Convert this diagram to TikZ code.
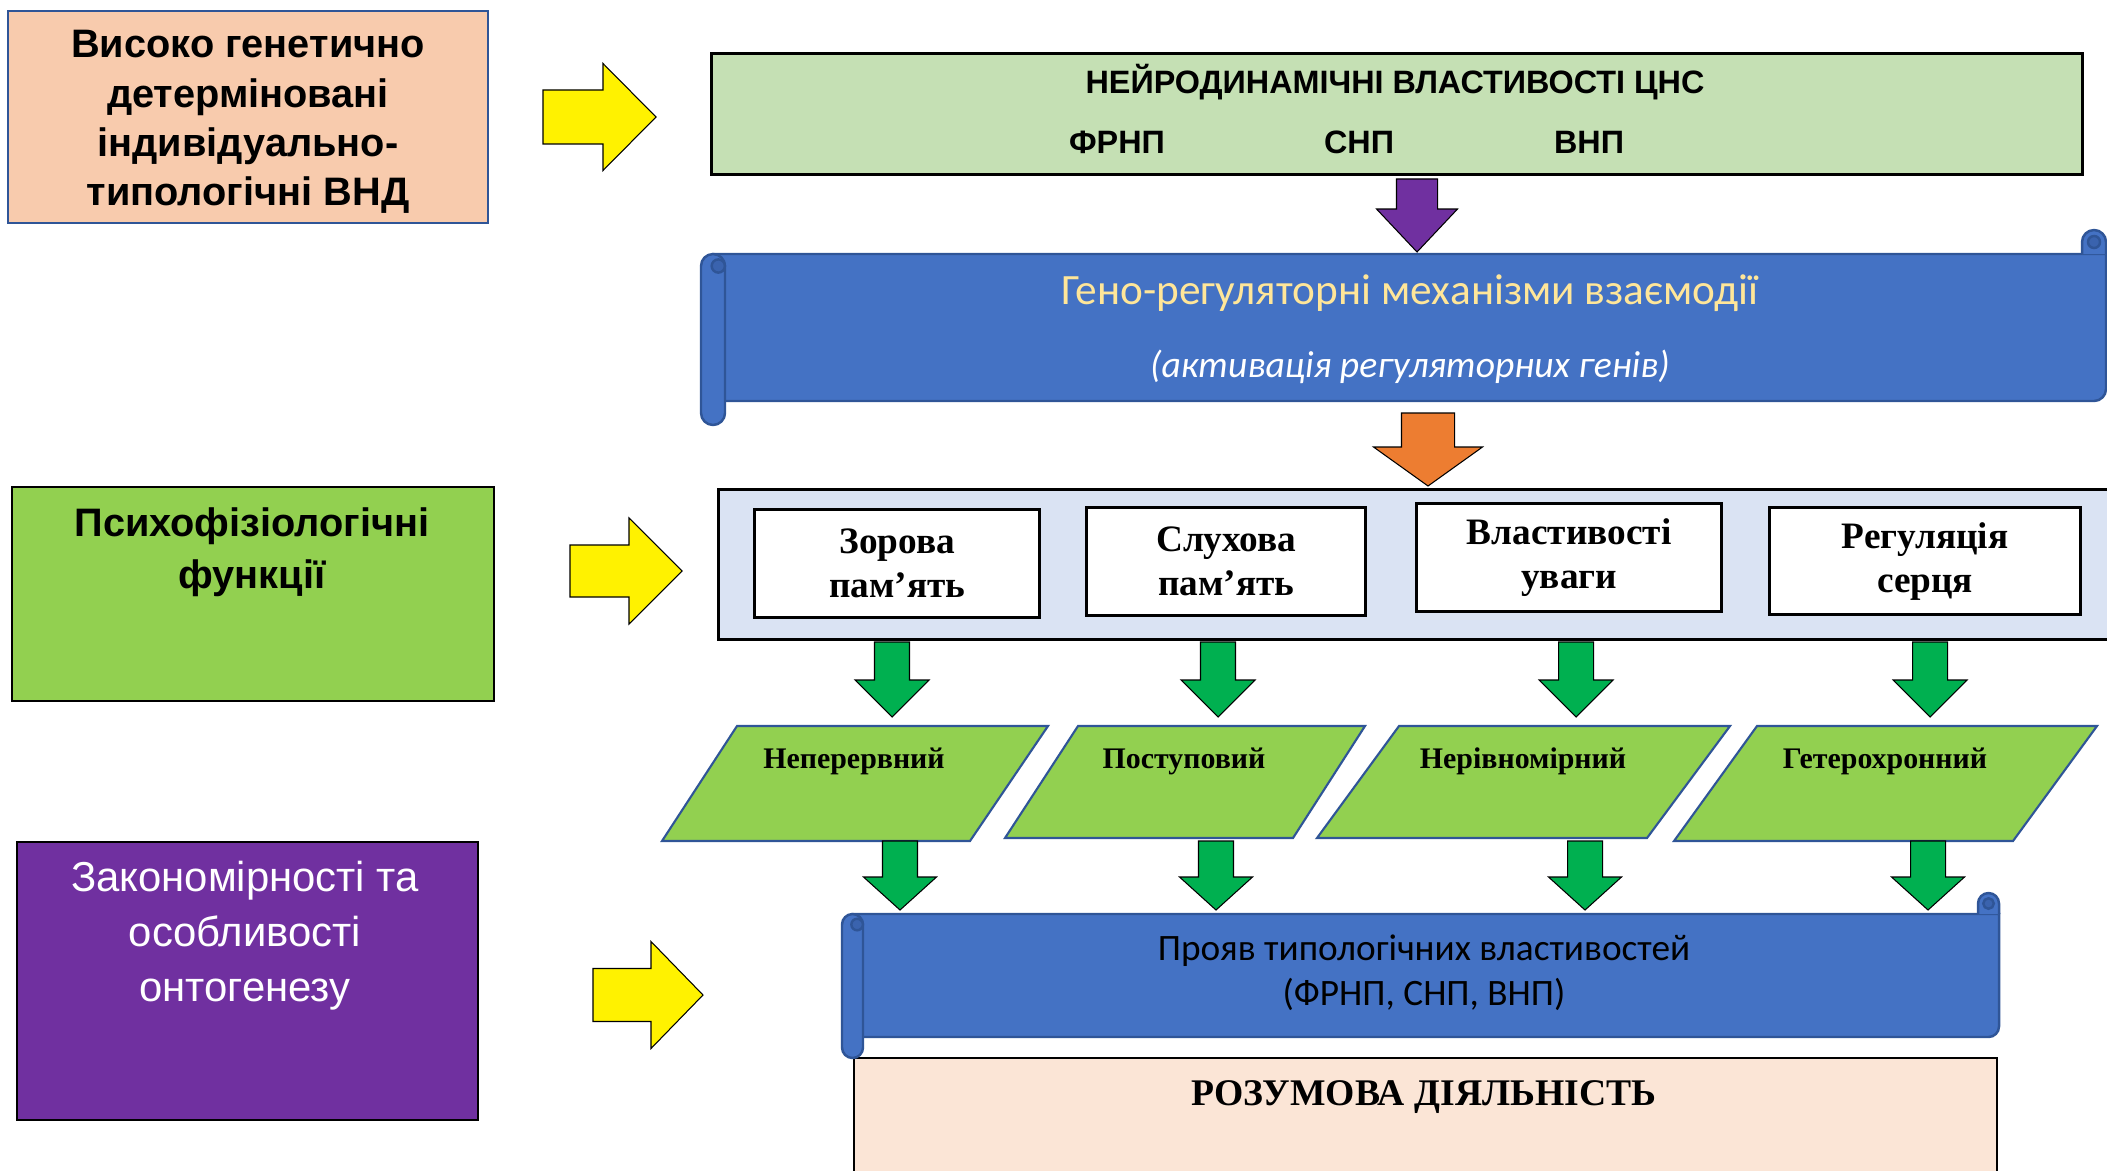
\documentclass[tikz,border=0pt]{standalone}
\usepackage{fontspec}
\setmainfont{Liberation Serif}
\newfontfamily\arialfont{Liberation Sans}
\newfontfamily\calibrifont{Carlito}
\usetikzlibrary{positioning,calc}

\definecolor{genpeach}{HTML}{F8CBAD}
\definecolor{ncsgreen}{HTML}{C5E0B4}
\definecolor{pfgreen}{HTML}{92D050}
\definecolor{arrgreen}{HTML}{00B050}
\definecolor{ontpurple}{HTML}{7030A0}
\definecolor{scrollblue}{HTML}{4472C4}
\definecolor{scrolledge}{HTML}{2F5597}
\definecolor{scrolldark}{HTML}{3A63AE}
\definecolor{paleblue}{HTML}{DAE3F3}
\definecolor{arrorange}{HTML}{ED7D31}
\definecolor{mindpeach}{HTML}{FBE5D6}
\definecolor{paleyellow}{HTML}{FFE699}

% down block arrow: x, top, tip, body half, head half, head length, colour
\newcommand{\dnarrow}[7]{%
  \draw[blockarrow,fill=#7] (#1-#4,#2) -- (#1+#4,#2) -- (#1+#4,#3-#6) -- (#1+#5,#3-#6)
    -- (#1,#3) -- (#1-#5,#3-#6) -- (#1-#4,#3-#6) -- cycle;}
% right block arrow: start, tip, y, body half, head half, head base
\newcommand{\rtarrow}[6]{%
  \draw[blockarrow,fill=yellow] (#1,#3-#4) -- (#6,#3-#4) -- (#6,#3-#5) -- (#2,#3)
    -- (#6,#3+#5) -- (#6,#3+#4) -- (#1,#3+#4) -- cycle;}
% scroll banner: left, right, top, bottom, roll size, roll radius
\newcommand{\scrollbanner}[6]{%
  \draw[scroll] (#1+#5/2,#3+#5) -- (#2,#3+#5) [rounded corners=#6] -- (#2,#4-#5)
    -- (#1+#5/2,#4-#5) [sharp corners] -- cycle;
  \draw[scroll,rounded corners=#6] (#2-#5,#3+#5) -- (#2-#5,#3) -- (#2,#3) -- (#2,#3+#5);
  \draw[scroll,fill=scrolldark] (#2-#5/2,#3+#5/2) circle[radius=0.5*#6];
  \draw[scroll,rounded corners=#6] (#1,#3+#5) rectangle (#1+#5,#4);
  \draw[scroll,fill=scrolldark] (#1+0.72*#5,#3+1.5*#5) circle[radius=0.55*#6];}

\begin{document}
\begin{tikzpicture}[x=0.01cm,y=-0.01cm,
  blockarrow/.style={draw=black,line width=0.3pt},
  scroll/.style={draw=scrolledge,fill=scrollblue,line width=0.7pt},
  sidebox/.style={draw=black,line width=0.6pt,anchor=north west,inner sep=0pt},
  memobox/.style={draw=black,fill=white,line width=0.9pt,anchor=north west,align=center,
    font=\bfseries\fontsize{10.6}{12.5}\selectfont},
  para/.style={draw=scrolledge,fill=pfgreen,line width=0.6pt},
  paratext/.style={font=\bfseries\fontsize{8.5}{10}\selectfont},
  ncstext/.style={font=\arialfont\bfseries\fontsize{9.2}{11}\selectfont}]
\useasboundingbox (0,0) rectangle (2107,1170);

% left column
\node[sidebox,draw=scrolledge,fill=genpeach,minimum width=4.80cm,minimum height=2.12cm] (gen) at (7,10) {};
\node[align=center,font=\arialfont\bfseries\fontsize{11.3}{14}\selectfont] (gentext) at (248,122)
  {Високо генетично\\детерміновані\\індивідуально-\\типологічні ВНД};
\node[sidebox,fill=pfgreen,minimum width=4.82cm,minimum height=2.14cm] (psy) at (11,486) {};
\node[align=center,font=\arialfont\bfseries\fontsize{11.3}{14.8}\selectfont] (psytext) at (252,552)
  {Психофізіологічні\\функції};
\node[sidebox,fill=ontpurple,minimum width=4.61cm,minimum height=2.78cm] (ont) at (16,841) {};
\node[align=center,text=white,font=\arialfont\fontsize{11.9}{15.6}\selectfont] (onttext) at (245,936)
  {Закономірності та\\особливості\\онтогенезу};

\rtarrow{543}{656}{117}{27}{53.5}{603}
\rtarrow{570}{682}{571}{26}{53}{629}
\rtarrow{593}{703}{995}{26.5}{53.5}{651}

% neurodynamic properties
\node[sidebox,fill=ncsgreen,line width=0.9pt,minimum width=13.70cm,minimum height=1.21cm] (ncs) at (710,52) {};
\node[ncstext] (ncstitle) at (1395,82) {НЕЙРОДИНАМІЧНІ ВЛАСТИВОСТІ ЦНС};
\node[ncstext] (frnp) at (1117,142) {ФРНП};
\node[ncstext] (snp) at (1359,142) {СНП};
\node[ncstext] (vnp) at (1589,142) {ВНП};

\dnarrow{1417}{179}{252}{20.5}{40.5}{43}{ontpurple}

% gene regulation
\scrollbanner{701}{2106}{230}{425}{24}{0.12cm}
\node[text=paleyellow,font=\calibrifont\fontsize{12.3}{14}\selectfont] (geno) at (1410,293)
  {Гено-регуляторні механізми взаємодії};
\node[text=white,font=\calibrifont\itshape\fontsize{10.7}{12}\selectfont] (activ) at (1410,367)
  {(активація регуляторних генів)};

\dnarrow{1428}{413}{486}{26.5}{54.5}{39}{arrorange}

% psychophysiological functions
\node[sidebox,fill=paleblue,line width=0.9pt,minimum width=14.03cm,minimum height=1.50cm] (funcs) at (717,488) {};
\node[memobox,minimum width=2.85cm,minimum height=1.08cm] (vis) at (753,508) {Зорова\\пам’ять};
\node[memobox,minimum width=2.79cm,minimum height=1.08cm] (aud) at (1085,506) {Слухова\\пам’ять};
\node[memobox,minimum width=3.05cm,minimum height=1.08cm] (att) at (1415,502) {Властивості\\уваги};
\node[memobox,minimum width=3.11cm,minimum height=1.07cm] (heart) at (1768,506) {Регуляція\\серця};

\foreach \x in {892,1218,1576,1930}
  \dnarrow{\x}{642}{717}{17.5}{37}{37}{arrgreen};

% types of development
\draw[para] (737,726) -- (1048,726) -- (970,841) -- (662,841) -- cycle;
\draw[para] (1078,726) -- (1365,726) -- (1293,838) -- (1005,838) -- cycle;
\draw[para] (1399,726) -- (1730,726) -- (1647,838) -- (1317,838) -- cycle;
\draw[para] (1757,726) -- (2097,726) -- (2013,841) -- (1674,841) -- cycle;
\node[paratext] (cont) at (854,761) {Неперервний};
\node[paratext] (grad) at (1184,761) {Поступовий};
\node[paratext] (uneven) at (1523,761) {Нерівномірний};
\node[paratext] (hetero) at (1885,761) {Гетерохронний};

\foreach \x in {900,1216,1585,1928}
  \dnarrow{\x}{841}{910}{17.5}{36.5}{33}{arrgreen};

% mental activity
\node[sidebox,fill=mindpeach,minimum width=11.42cm,minimum height=1.60cm] (mind) at (853,1057) {};
\node[font=\bfseries\fontsize{10.7}{12}\selectfont] (mindtext) at (1424,1097) {РОЗУМОВА ДІЯЛЬНІСТЬ};

\scrollbanner{842}{1999}{893}{1058}{21}{0.105cm}
\node[align=center,font=\calibrifont\fontsize{10.6}{12.8}\selectfont] (typo) at (1424,973)
  {Прояв типологічних властивостей\\(ФРНП, СНП, ВНП)};
\end{tikzpicture}
\end{document}
